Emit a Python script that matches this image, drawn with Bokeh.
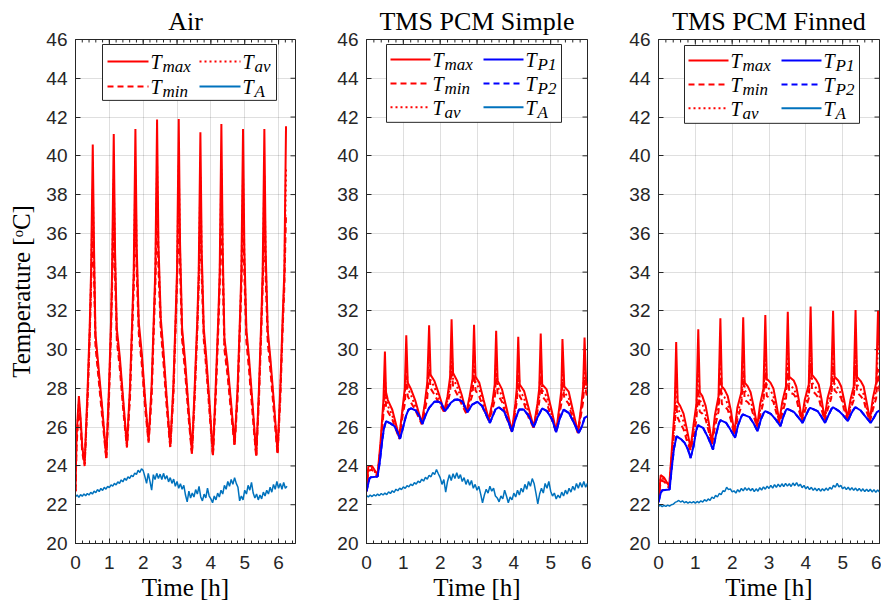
import numpy as np
from bokeh.plotting import figure
from bokeh.layouts import row
from bokeh.models import Range1d, FixedTicker
from bokeh.core.properties import value
from bokeh.embed import file_html
from bokeh.resources import INLINE

TITLES = ["Air", "TMS PCM Simple", "TMS PCM Finned"]
X_TICKS = [0, 1, 2, 3, 4, 5, 6]
Y_TICKS = [20, 22, 24, 26, 28, 30, 32, 34, 36, 38, 40, 42, 44, 46]
X_MAX = [6.5, 6.0, 6.0]
Y_LABEL = "Temperature [\u1d52C]"
X_LABEL = "Time [h]"
TA_DT = 0.05  # sampling interval (h) of the ambient series below

# ---------------- Air ----------------
AIR_T = [0.00, 0.03, 0.10, 0.15, 0.20, 0.27,
         0.36, 0.42, 0.46, 0.51, 0.55, 0.59, 0.67, 0.79, 0.91,
         0.99, 1.05, 1.08, 1.13, 1.17, 1.22, 1.31, 1.42, 1.52,
         1.61, 1.68, 1.72, 1.77, 1.81, 1.87, 1.96, 2.06, 2.16,
         2.25, 2.32, 2.36, 2.41, 2.45, 2.52, 2.60, 2.70, 2.80,
         2.89, 2.96, 3.00, 3.05, 3.09, 3.15, 3.24, 3.34, 3.44,
         3.52, 3.60, 3.64, 3.69, 3.73, 3.79, 3.86, 3.97, 4.06,
         4.14, 4.22, 4.26, 4.31, 4.35, 4.40, 4.49, 4.60, 4.70,
         4.79, 4.86, 4.90, 4.95, 4.99, 5.05, 5.13, 5.24, 5.34,
         5.42, 5.49, 5.53, 5.58, 5.62, 5.68, 5.76, 5.87, 5.97,
         6.05, 6.12, 6.17, 6.22]
AIR_TMAX = [22.7, 25.5, 27.6, 26.5, 25.0, 24.1,
            28.1, 31.2, 34.0, 40.58, 35.0, 30.8, 29.3, 27.0, 24.44,
            28.1, 31.5, 34.0, 41.12, 35.0, 31.1, 29.6, 27.2, 25.04,
            28.1, 31.8, 34.0, 41.38, 35.2, 31.4, 29.8, 27.4, 25.3,
            28.2, 32.0, 34.2, 41.87, 35.5, 31.6, 29.9, 27.4, 25.04,
            28.1, 31.8, 34.1, 41.9, 35.4, 31.1, 29.4, 27.0, 24.7,
            28.0, 31.6, 34.0, 41.21, 35.0, 31.1, 29.7, 27.0, 24.58,
            28.0, 31.7, 34.0, 41.64, 35.2, 30.6, 29.3, 27.2, 25.13,
            28.1, 31.7, 34.0, 41.38, 35.1, 31.0, 29.5, 27.0, 24.55,
            28.0, 31.6, 34.0, 41.38, 35.0, 31.0, 29.5, 27.1, 24.7,
            28.0, 31.6, 34.0, 41.52]
AIR_TAV = [22.7, 25.3, 27.3, 26.3, 24.9, 24.1,
           27.8, 30.9, 33.6, 38.3, 34.4, 30.5, 29.0, 26.8, 24.40,
           27.8, 31.2, 33.6, 38.8, 34.5, 30.8, 29.3, 27.0, 25.0,
           27.8, 31.5, 33.6, 39.0, 34.7, 31.1, 29.5, 27.2, 25.25,
           27.9, 31.7, 33.8, 39.5, 35.0, 31.3, 29.6, 27.2, 25.0,
           27.8, 31.5, 33.7, 39.5, 34.9, 30.8, 29.1, 26.8, 24.65,
           27.7, 31.3, 33.6, 38.9, 34.5, 30.8, 29.4, 26.8, 24.55,
           27.7, 31.4, 33.6, 39.3, 34.7, 30.3, 29.0, 27.0, 25.1,
           27.8, 31.4, 33.6, 39.0, 34.6, 30.7, 29.2, 26.8, 24.5,
           27.7, 31.3, 33.6, 39.0, 34.5, 30.7, 29.2, 26.9, 24.65,
           27.7, 31.3, 33.6, 39.3]
AIR_TMIN = [22.7, 25.0, 27.0, 26.0, 24.7, 24.0,
            27.5, 30.6, 33.2, 36.2, 33.6, 30.2, 28.7, 26.5, 24.35,
            27.5, 30.9, 33.2, 36.6, 33.7, 30.5, 29.0, 26.7, 24.95,
            27.5, 31.2, 33.2, 36.9, 33.9, 30.8, 29.2, 26.9, 25.2,
            27.6, 31.4, 33.4, 37.3, 34.2, 31.0, 29.3, 26.9, 24.95,
            27.5, 31.2, 33.3, 37.4, 34.1, 30.5, 28.8, 26.5, 24.6,
            27.4, 31.0, 33.2, 36.7, 33.7, 30.5, 29.1, 26.5, 24.5,
            27.4, 31.1, 33.2, 37.1, 33.9, 30.0, 28.7, 26.7, 25.05,
            27.5, 31.1, 33.2, 36.9, 33.8, 30.4, 28.9, 26.5, 24.45,
            27.4, 31.0, 33.2, 36.9, 33.7, 30.4, 28.9, 26.6, 24.6,
            27.4, 31.0, 33.2, 37.0]
AIR_TA = [22.42, 22.50, 22.38, 22.52, 22.44, 22.56, 22.46, 22.58, 22.50, 22.64,
          22.55, 22.70, 22.62, 22.78, 22.68, 22.84, 22.74, 22.90, 22.80, 22.95,
          22.88, 23.02, 22.96, 23.10, 23.02, 23.18, 23.10, 23.28, 23.18, 23.36,
          23.26, 23.44, 23.36, 23.52, 23.44, 23.64, 23.56, 23.78, 23.66, 23.86,
          23.76, 23.45, 23.10, 23.62, 23.20, 22.75, 23.55, 23.30, 23.62, 23.35,
          23.58, 23.30, 23.62, 23.32, 23.50, 23.18, 23.40, 23.10, 23.32, 22.95,
          23.20, 22.85, 23.08, 22.80, 23.00, 22.50, 22.15, 22.70, 22.35, 22.60,
          22.40, 22.78, 22.55, 22.95, 22.40, 22.20, 22.55, 22.35, 22.85, 22.45,
          22.30, 22.10, 22.45, 22.25, 22.60, 22.40, 22.75, 22.55, 23.00, 22.80,
          23.20, 22.95, 23.30, 23.05, 23.40, 23.10, 22.90, 22.20, 22.45, 22.25,
          22.75, 22.55, 23.00, 22.75, 23.15, 22.60, 22.35, 22.55, 22.25, 22.50,
          22.30, 22.65, 22.45, 22.75, 22.55, 22.90, 22.65, 23.05, 22.80, 23.20,
          22.85, 23.10, 22.80, 23.15, 22.85, 22.95]

# ---------------- TMS PCM Simple ----------------
S_T = [0.00, 0.05, 0.15, 0.30, 0.38, 0.46, 0.50, 0.53, 0.58, 0.70, 0.89,
       0.98, 1.04, 1.08, 1.12, 1.20, 1.32, 1.50,
       1.58, 1.65, 1.70, 1.74, 1.84, 1.95, 2.11,
       2.20, 2.27, 2.31, 2.35, 2.46, 2.58, 2.71,
       2.80, 2.88, 2.92, 2.96, 3.06, 3.18, 3.32,
       3.42, 3.48, 3.52, 3.56, 3.68, 3.80, 3.95,
       4.04, 4.08, 4.12, 4.16, 4.28, 4.40, 4.54,
       4.64, 4.69, 4.73, 4.77, 4.89, 5.01, 5.15,
       5.24, 5.29, 5.32, 5.37, 5.49, 5.60, 5.74,
       5.83, 5.88, 5.92, 5.96, 6.00]
S_TMAX = [22.70, 24.00, 24.00, 23.55, 25.2, 27.4, 29.90, 27.8, 27.4, 26.9, 25.50,
          27.0, 28.0, 30.74, 28.3, 28.0, 27.4, 26.22,
          27.2, 28.3, 31.26, 28.7, 28.4, 27.8, 26.83,
          27.6, 28.6, 31.57, 28.8, 28.4, 27.7, 26.74,
          27.6, 28.5, 31.28, 28.6, 28.3, 27.4, 26.40,
          27.3, 28.2, 30.97, 28.4, 27.95, 27.0, 25.80,
          27.2, 28.0, 30.66, 28.2, 27.86, 27.0, 26.00,
          27.2, 28.0, 30.83, 28.2, 27.95, 27.0, 25.80,
          27.1, 27.9, 30.55, 28.1, 27.83, 26.9, 25.74,
          27.1, 28.0, 30.62, 28.4, 28.1]
S_TAV = [22.70, 23.85, 23.90, 23.50, 25.0, 27.0, 28.6, 27.5, 27.1, 26.6, 25.45,
         26.8, 27.6, 29.4, 28.0, 27.7, 27.1, 26.20,
         27.0, 27.9, 29.9, 28.4, 28.1, 27.5, 26.80,
         27.4, 28.2, 30.1, 28.5, 28.1, 27.4, 26.72,
         27.4, 28.1, 29.9, 28.3, 28.0, 27.1, 26.38,
         27.1, 27.8, 29.6, 28.1, 27.6, 26.7, 25.78,
         27.0, 27.6, 29.4, 27.9, 27.5, 26.7, 25.98,
         27.0, 27.6, 29.5, 27.9, 27.6, 26.7, 25.78,
         26.9, 27.5, 29.2, 27.8, 27.5, 26.6, 25.72,
         26.9, 27.6, 29.3, 28.1, 27.8]
S_TMIN = [22.70, 23.75, 23.80, 23.45, 24.8, 26.7, 27.9, 27.1, 26.8, 26.4, 25.40,
          26.6, 27.2, 28.6, 27.6, 27.3, 26.9, 26.15,
          26.8, 27.5, 29.0, 28.0, 27.7, 27.3, 26.78,
          27.2, 27.8, 29.2, 28.1, 27.7, 27.2, 26.70,
          27.2, 27.7, 29.0, 27.9, 27.6, 26.9, 26.35,
          26.9, 27.4, 28.8, 27.7, 27.3, 26.5, 25.75,
          26.8, 27.3, 28.6, 27.6, 27.2, 26.5, 25.95,
          26.8, 27.3, 28.6, 27.6, 27.3, 26.5, 25.75,
          26.7, 27.2, 28.4, 27.5, 27.2, 26.4, 25.70,
          26.7, 27.3, 28.5, 27.8, 27.5]
S_P_T = [0.00, 0.08, 0.12, 0.30, 0.36, 0.42, 0.47, 0.53, 0.65, 0.76, 0.84, 0.91,
         0.98, 1.07, 1.14, 1.21, 1.34, 1.44, 1.52,
         1.60, 1.70, 1.84, 1.94, 2.02, 2.13,
         2.20, 2.29, 2.40, 2.47, 2.60, 2.74,
         2.80, 2.87, 3.01, 3.14, 3.25, 3.35,
         3.42, 3.50, 3.59, 3.73, 3.85, 3.95,
         4.04, 4.14, 4.27, 4.41, 4.54,
         4.64, 4.77, 4.90, 5.04, 5.15,
         5.24, 5.35, 5.49, 5.62, 5.76,
         5.85, 5.92, 6.00]
S_TP1 = [22.69, 23.35, 23.42, 23.45, 24.2, 25.2, 25.9, 26.31, 26.20, 26.05, 25.75, 25.40,
         25.9, 26.57, 26.90, 26.97, 26.86, 26.55, 26.17,
         26.6, 27.00, 27.31, 27.32, 27.26, 26.83,
         27.0, 27.26, 27.42, 27.43, 27.34, 26.78,
         26.95, 27.17, 27.31, 27.09, 26.65, 26.22,
         26.55, 26.91, 27.03, 26.83, 26.3, 25.76,
         26.4, 26.91, 26.91, 26.57, 26.00,
         26.5, 26.97, 26.83, 26.40, 25.74,
         26.4, 26.91, 26.74, 26.28, 25.70,
         26.05, 26.48, 26.57]
S_TP2 = S_TP1  # coincides with T_P1 in the picture
S_TA = [22.47, 22.40, 22.50, 22.42, 22.52, 22.45, 22.55, 22.47, 22.58, 22.50,
        22.60, 22.52, 22.66, 22.58, 22.72, 22.64, 22.80, 22.72, 22.86, 22.78,
        22.92, 22.84, 22.98, 22.92, 23.06, 22.98, 23.14, 23.06, 23.22, 23.14,
        23.32, 23.22, 23.42, 23.32, 23.52, 23.44, 23.66, 23.56, 23.82, 23.60,
        23.40, 23.05, 23.30, 22.65, 23.20, 23.55, 23.25, 23.60, 23.35, 23.65,
        23.35, 23.55, 23.20, 23.40, 23.05, 23.30, 23.00, 23.25, 22.85, 23.05,
        22.75, 22.95, 22.55, 22.10, 22.50, 22.80, 22.60, 22.95, 22.70, 22.85,
        22.45, 22.35, 22.15, 22.45, 22.30, 22.75, 22.45, 22.10, 22.40, 22.25,
        22.60, 22.40, 22.75, 22.50, 22.85, 22.65, 23.05, 22.80, 23.20, 22.95,
        23.35, 23.10, 22.60, 22.05, 22.55, 22.85, 22.60, 23.10, 22.85, 23.20,
        22.70, 22.45, 22.60, 22.30, 22.50, 22.35, 22.65, 22.45, 22.75, 22.55,
        22.85, 22.65, 22.95, 22.75, 23.10, 22.85, 23.15, 22.90, 23.20, 22.90,
        23.10]

# ---------------- TMS PCM Finned ----------------
F_T = [0.00, 0.06, 0.15, 0.29, 0.36, 0.44, 0.48, 0.52, 0.59, 0.68, 0.77, 0.87,
       0.95, 1.03, 1.08, 1.12, 1.19, 1.28, 1.36, 1.45,
       1.53, 1.63, 1.68, 1.72, 1.79, 1.88, 1.96, 2.06,
       2.14, 2.25, 2.30, 2.34, 2.42, 2.50, 2.58, 2.68,
       2.76, 2.85, 2.90, 2.94, 3.04, 3.12, 3.19, 3.28,
       3.36, 3.46, 3.51, 3.55, 3.67, 3.74, 3.81, 3.89,
       3.97, 4.08, 4.13, 4.17, 4.27, 4.35, 4.43, 4.51,
       4.59, 4.69, 4.74, 4.78, 4.88, 4.96, 5.04, 5.13,
       5.21, 5.30, 5.35, 5.39, 5.49, 5.57, 5.65, 5.74,
       5.82, 5.91, 5.96, 6.00]
F_TMAX = [22.20, 23.53, 23.40, 22.95, 24.8, 27.0, 30.40, 27.3, 27.09, 26.7, 25.9, 24.93,
          26.1, 27.2, 31.05, 27.8, 27.6, 27.1, 26.3, 25.19,
          26.6, 27.6, 31.62, 28.1, 27.95, 27.6, 26.9, 25.71,
          27.0, 27.8, 31.67, 28.3, 28.12, 27.8, 27.1, 26.05,
          27.2, 28.0, 31.79, 28.5, 28.30, 28.0, 27.3, 26.31,
          27.3, 28.1, 31.95, 28.6, 28.41, 28.1, 27.4, 26.40,
          27.4, 28.2, 32.22, 28.7, 28.47, 28.2, 27.4, 26.45,
          27.5, 28.2, 32.00, 28.6, 28.41, 28.1, 27.4, 26.48,
          27.4, 28.1, 32.05, 28.6, 28.38, 28.1, 27.3, 26.40,
          27.5, 28.3, 32.00, 30.0]
F_TAV = [22.20, 23.40, 23.30, 22.90, 24.5, 26.6, 28.7, 27.0, 26.7, 26.3, 25.6, 24.85,
         25.8, 26.9, 29.3, 27.4, 27.2, 26.7, 26.0, 25.12,
         26.3, 27.2, 29.9, 27.7, 27.55, 27.2, 26.6, 25.65,
         26.7, 27.4, 30.0, 27.9, 27.7, 27.4, 26.8, 26.00,
         26.9, 27.6, 30.1, 28.1, 27.9, 27.6, 27.0, 26.25,
         27.0, 27.7, 30.3, 28.2, 28.0, 27.7, 27.1, 26.35,
         27.1, 27.8, 30.5, 28.3, 28.05, 27.8, 27.1, 26.40,
         27.2, 27.8, 30.3, 28.2, 28.0, 27.7, 27.1, 26.42,
         27.1, 27.7, 30.4, 28.2, 27.95, 27.7, 27.0, 26.35,
         27.2, 27.9, 30.3, 29.8]
F_TMIN = [22.20, 23.25, 23.20, 22.85, 24.2, 26.1, 27.2, 26.5, 26.2, 25.9, 25.3, 24.80,
          25.5, 26.4, 28.0, 26.8, 26.7, 26.4, 25.8, 25.08,
          26.0, 26.8, 28.6, 27.2, 27.1, 26.9, 26.4, 25.60,
          26.4, 27.1, 28.8, 27.4, 27.3, 27.1, 26.6, 25.95,
          26.6, 27.3, 28.9, 27.6, 27.5, 27.3, 26.8, 26.20,
          26.7, 27.4, 29.1, 27.8, 27.7, 27.5, 26.9, 26.30,
          26.8, 27.5, 29.3, 27.9, 27.7, 27.5, 26.9, 26.35,
          26.9, 27.5, 29.2, 27.9, 27.7, 27.5, 26.9, 26.38,
          26.9, 27.4, 29.2, 27.8, 27.6, 27.4, 26.8, 26.30,
          26.9, 27.5, 29.0, 27.8]
F_P_T = [0.00, 0.06, 0.10, 0.30, 0.36, 0.42, 0.49, 0.60, 0.71, 0.80, 0.87,
         0.95, 1.02, 1.07, 1.21, 1.35, 1.48,
         1.56, 1.64, 1.68, 1.84, 1.96, 2.08,
         2.16, 2.25, 2.29, 2.47, 2.58, 2.69,
         2.78, 2.86, 2.90, 3.05, 3.18, 3.31,
         3.40, 3.46, 3.50, 3.68, 3.80, 3.91,
         4.00, 4.08, 4.12, 4.32, 4.42, 4.52,
         4.61, 4.70, 4.74, 4.90, 5.02, 5.14,
         5.23, 5.31, 5.35, 5.49, 5.62, 5.76,
         5.85, 5.93, 6.00]
F_TP1 = [22.13, 22.60, 22.75, 22.78, 23.9, 24.9, 25.53, 25.40, 25.19, 24.85, 24.41,
         25.0, 25.8, 26.10, 25.97, 25.45, 24.84,
         25.6, 26.2, 26.36, 26.22, 25.85, 25.45,
         26.1, 26.55, 26.66, 26.52, 26.2, 25.79,
         26.4, 26.75, 26.83, 26.69, 26.4, 26.05,
         26.6, 26.88, 26.95, 26.78, 26.5, 26.22,
         26.6, 26.92, 27.00, 26.83, 26.55, 26.22,
         26.6, 26.95, 27.03, 26.83, 26.6, 26.31,
         26.7, 26.95, 27.03, 26.86, 26.55, 26.22,
         26.5, 26.78, 26.85]
F_TP2 = F_TP1  # coincides with T_P1 in the picture
F_TA = [21.92, 21.98, 21.90, 21.97, 21.91, 21.98, 21.93, 22.00, 22.02, 22.12,
        22.16, 22.22, 22.14, 22.20, 22.10, 22.16, 22.08, 22.15, 22.09, 22.16,
        22.08, 22.17, 22.10, 22.20, 22.14, 22.26, 22.18, 22.30, 22.22, 22.40,
        22.32, 22.48, 22.40, 22.58, 22.52, 22.72, 22.68, 22.90, 22.78, 22.82,
        22.66, 22.72, 22.60, 22.78, 22.66, 22.84, 22.72, 22.88, 22.74, 22.86,
        22.72, 22.84, 22.68, 22.82, 22.70, 22.88, 22.76, 22.92, 22.80, 22.96,
        22.84, 23.00, 22.86, 23.04, 22.90, 23.06, 22.92, 23.08, 22.94, 23.10,
        22.96, 23.08, 22.94, 23.12, 22.98, 23.14, 22.96, 23.06, 22.88, 23.00,
        22.82, 22.94, 22.78, 22.90, 22.74, 22.86, 22.72, 22.84, 22.70, 22.82,
        22.72, 22.86, 22.74, 22.90, 22.80, 23.00, 22.90, 23.10, 22.92, 23.00,
        22.82, 22.92, 22.78, 22.90, 22.76, 22.88, 22.74, 22.86, 22.72, 22.84,
        22.70, 22.82, 22.68, 22.80, 22.68, 22.80, 22.66, 22.78, 22.64, 22.76,
        22.66]

# ---------------- styling ----------------
RED = "#ff0000"
BLUE = "#0000ff"
AMB = "#0072bd"
AX = "#262626"
SERIF = "Liberation Serif"
SANS = "Liberation Sans"
DASH = "6 4"
DOT = "2 3"

FRAME_W = [220, 221, 221]
FRAME_H = 505
LEFT_B = [75, 67, 67]
RIGHT_B = [4, 4, 2]
TOP_B = 38
BOT_B = 63
TICK_PX = 5
MINOR_PX = 3

STYLE = {
    "max": (RED, "solid"), "min": (RED, DASH), "av": (RED, DOT),
    "A": (AMB, "solid"), "P1": (BLUE, "solid"), "P2": (BLUE, DASH),
}
# legend layout, frame pixels: box (L, R, T, B), row centres, column line starts, entries
LEGENDS = [
    dict(box=(27, 201, 5, 61), rows=[22, 47], cols=[32, 124], length=41,
         entries=[(0, 0, "max"), (1, 0, "av"), (0, 1, "min"), (1, 1, "A")]),
    dict(box=(20, 195, 5, 83), rows=[20, 44, 68], cols=[24, 117], length=40,
         entries=[(0, 0, "max"), (0, 1, "min"), (0, 2, "av"),
                  (1, 0, "P1"), (1, 1, "P2"), (1, 2, "A")]),
    dict(box=(26, 201, 6, 84), rows=[21, 45, 69], cols=[30, 123], length=40,
         entries=[(0, 0, "max"), (0, 1, "min"), (0, 2, "av"),
                  (1, 0, "P1"), (1, 1, "P2"), (1, 2, "A")]),
]


def make_fig(i):
    xmax = X_MAX[i]
    w = LEFT_B[i] + FRAME_W[i] + RIGHT_B[i]
    h = TOP_B + FRAME_H + BOT_B
    p = figure(width=w, height=h, x_range=Range1d(0, xmax), y_range=Range1d(20, 46),
               output_backend="svg", toolbar_location=None, title=TITLES[i],
               min_border_left=LEFT_B[i], min_border_right=RIGHT_B[i],
               min_border_top=TOP_B, min_border_bottom=BOT_B)
    p.background_fill_color = "white"
    p.border_fill_color = "white"
    p.outline_line_color = AX
    p.outline_line_width = 1
    p.outline_line_alpha = 1.0

    minor = [round(v, 1) for v in np.arange(0, xmax + 1e-6, 0.2)]
    xax = p.below[0]
    yax = p.left[0]
    xax.ticker = FixedTicker(ticks=X_TICKS, minor_ticks=minor)
    yax.ticker = FixedTicker(ticks=Y_TICKS)
    p.xgrid.ticker = FixedTicker(ticks=X_TICKS)
    p.ygrid.ticker = FixedTicker(ticks=Y_TICKS)
    p.grid.grid_line_color = AX
    p.grid.grid_line_alpha = 0.15
    p.grid.grid_line_width = 1

    for ax in (xax, yax):
        ax.axis_line_color = AX
        ax.axis_line_width = 1
        ax.major_tick_line_color = AX
        ax.minor_tick_line_color = AX
        ax.major_tick_in = TICK_PX
        ax.major_tick_out = 0
        ax.minor_tick_in = MINOR_PX
        ax.minor_tick_out = 0
        ax.major_label_text_font = SANS
        ax.major_label_text_font_size = "19px"
        ax.major_label_text_color = AX
        ax.axis_label_text_font = SERIF
        ax.axis_label_text_font_size = "25px"
        ax.axis_label_text_font_style = "normal"
        ax.axis_label_text_color = "black"
    xax.major_label_standoff = 12
    xax.axis_label_standoff = 2
    xax.axis_label = X_LABEL
    yax.major_label_standoff = 8
    yax.axis_label_standoff = 8
    if i == 0:
        yax.axis_label = Y_LABEL

    # box ticks on the top and right edges (inward), as in the boxed original axes
    sx = xmax / FRAME_W[i]
    sy = 26.0 / FRAME_H
    p.segment(x0=X_TICKS, y0=[46] * len(X_TICKS), x1=X_TICKS,
              y1=[46 - TICK_PX * sy] * len(X_TICKS), line_color=AX, line_width=1)
    p.segment(x0=minor, y0=[46] * len(minor), x1=minor,
              y1=[46 - MINOR_PX * sy] * len(minor), line_color=AX, line_width=1)
    p.segment(x0=[xmax] * len(Y_TICKS), y0=Y_TICKS, x1=[xmax - TICK_PX * sx] * len(Y_TICKS),
              y1=Y_TICKS, line_color=AX, line_width=1)

    p.title.text_font = SERIF
    p.title.text_font_size = "26px"
    p.title.text_font_style = "normal"
    p.title.text_color = "black"
    p.title.align = "center"
    p.title.standoff = 8
    return p


def add_legend(p, i):
    lg = LEGENDS[i]
    xmax = X_MAX[i]
    sx = xmax / FRAME_W[i]
    sy = 26.0 / FRAME_H

    def X(px):
        return px * sx

    def Y(px):
        return 46 - px * sy

    L, R, T, B = lg["box"]
    p.quad(left=[X(L)], right=[X(R)], top=[Y(T)], bottom=[Y(B)],
           fill_color="white", line_color=AX, line_width=1)
    for col, rw, sub in lg["entries"]:
        color, dash = STYLE[sub]
        x0 = lg["cols"][col]
        x1 = x0 + lg["length"]
        yy = Y(lg["rows"][rw])
        p.segment(x0=[X(x0)], y0=[yy], x1=[X(x1)], y1=[yy], line_color=color,
                  line_dash=dash, line_width=2)
        p.text(x=[X(x1 + 2)], y=[yy], text=["T"], text_font=value(SERIF),
               text_font_style="italic", text_font_size="20px", text_color="black",
               text_baseline="middle", text_align="left", y_offset=1)
        p.text(x=[X(x1 + 2)], y=[yy], text=[sub], text_font=value(SERIF),
               text_font_style="italic", text_font_size="17px", text_color="black",
               text_baseline="middle", text_align="left", x_offset=12, y_offset=5)


def ta_times(vals):
    return [k * TA_DT for k in range(len(vals))]


figs = []
# Air
p = make_fig(0)
p.line(AIR_T, AIR_TMIN, line_color=RED, line_dash=DASH, line_width=2)
p.line(AIR_T, AIR_TAV, line_color=RED, line_dash=DOT, line_width=2)
p.line(AIR_T, AIR_TMAX, line_color=RED, line_width=2)
p.line(ta_times(AIR_TA), AIR_TA, line_color=AMB, line_width=1.5)
add_legend(p, 0)
figs.append(p)

# PCM simple
p = make_fig(1)
p.line(S_T, S_TMIN, line_color=RED, line_dash=DASH, line_width=2)
p.line(S_T, S_TAV, line_color=RED, line_dash=DOT, line_width=2)
p.line(S_T, S_TMAX, line_color=RED, line_width=2)
p.line(S_P_T, S_TP2, line_color=BLUE, line_dash=DASH, line_width=2)
p.line(S_P_T, S_TP1, line_color=BLUE, line_width=2)
p.line(ta_times(S_TA), S_TA, line_color=AMB, line_width=1.5)
add_legend(p, 1)
figs.append(p)

# PCM finned
p = make_fig(2)
p.line(F_T, F_TMIN, line_color=RED, line_dash=DASH, line_width=2)
p.line(F_T, F_TAV, line_color=RED, line_dash=DOT, line_width=2)
p.line(F_T, F_TMAX, line_color=RED, line_width=2)
p.line(F_P_T, F_TP2, line_color=BLUE, line_dash=DASH, line_width=2)
p.line(F_P_T, F_TP1, line_color=BLUE, line_width=2)
p.line(ta_times(F_TA), F_TA, line_color=AMB, line_width=1.5)
add_legend(p, 2)
figs.append(p)

layout = row(*figs)
open("out.html", "w").write(file_html(layout, INLINE))
